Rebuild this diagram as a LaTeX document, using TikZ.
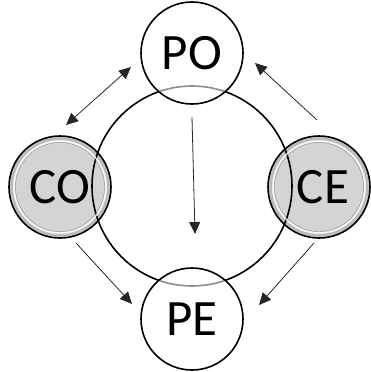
\documentclass[tikz,border=0pt]{standalone}
\usepackage{fontspec}
\setmainfont{Carlito}
\usetikzlibrary{arrows.meta}
\begin{document}
\begin{tikzpicture}[x=1pt,y=-1pt,
  lbl/.style={font=\fontsize{51}{51}\selectfont, inner sep=0pt},
  plain/.style={circle, draw=black, line width=1.6pt, fill=white, fill opacity=0.55, text opacity=1, minimum size=102pt, inner sep=0pt},
  grey/.style={circle, draw=black, line width=1.6pt, fill=black, fill opacity=0.17, text opacity=1, minimum size=102pt, inner sep=0pt},
  arr/.style={draw=black!85, line width=0.8pt, -{Triangle[length=12pt,width=11pt]}},
  darr/.style={draw=black!85, line width=0.8pt, {Triangle[length=12pt,width=11pt]}-{Triangle[length=12pt,width=11pt]}}]
\useasboundingbox (0,0) rectangle (370,372);
\node[circle, draw=black, line width=1.6pt, minimum size=200pt, inner sep=0pt] (ring) at (192,186) {};
\node[plain] (PO) at (192,53) {};
\node[plain] (PE) at (192,319) {};
\node[grey] (CO) at (60,187) {};
\node[grey] (CE) at (319,187) {};
\draw[black, line width=2.5pt, opacity=0.12] (CO) circle (48.5pt);
\draw[black, line width=2.5pt, opacity=0.12] (CE) circle (48.5pt);
\draw[white, line width=1.4pt, opacity=0.85] (CO) circle (46pt);
\draw[white, line width=1.4pt, opacity=0.85] (CE) circle (46pt);
\draw[black!60, line width=0.4pt, opacity=0.6] (CO) circle (44.5pt);
\draw[black!60, line width=0.4pt, opacity=0.6] (CE) circle (44.5pt);
\node[lbl] at (PO) {PO};
\node[lbl] at (PE) {PE};
\node[lbl] at (CO) {CO};
\node[lbl] at ([xshift=4pt]CE.center) {CE};
\coordinate (a1) at (66,125);
\coordinate (a2) at (131,67);
\coordinate (b1) at (317,120);
\coordinate (b2) at (255,63);
\coordinate (c1) at (192,117);
\coordinate (c2) at (195,234);
\coordinate (d1) at (76,243);
\coordinate (d2) at (132,304);
\coordinate (e1) at (314,243);
\coordinate (e2) at (259,305);
\draw[darr] (a1) -- (a2);
\draw[arr] (b1) -- (b2);
\draw[arr] (c1) -- (c2);
\draw[arr] (d1) -- (d2);
\draw[arr] (e1) -- (e2);
\end{tikzpicture}
\end{document}
